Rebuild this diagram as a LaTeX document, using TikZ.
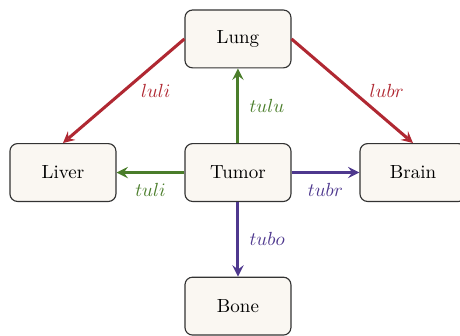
\documentclass[tikz,border=0pt]{standalone}
\usepackage{amsmath}
\usetikzlibrary{arrows}

\definecolor{metred}{RGB}{176,40,50}
\definecolor{metgreen}{RGB}{74,125,42}
\definecolor{metpurple}{RGB}{78,56,142}
\definecolor{organfill}{RGB}{250,247,242}

\begin{document}
\begin{tikzpicture}[>=stealth, semithick,
        organ/.style={draw=black!80, line width=0.6pt, fill=organfill, rounded corners=4pt,
            minimum width=1.96cm, minimum height=1.07cm},
        spread/.style={->, line width=1.6pt}]
    \useasboundingbox (-4.40, -3.005) rectangle (4.105, 3.19);
    \node[organ] (lung) at (0, 2.47) {Lung};
    \node[organ] (tumor) at (0, 0) {Tumor};
    \node[organ] (liver) at (-3.236, 0) {Liver};
    \node[organ] (brain) at (3.236, 0) {Brain};
    \node[organ] (bone) at (0, -2.47) {Bone};
    % from the lung
    \draw[spread, metred] (lung.west) -- (liver.north) node[midway, right, xshift=5pt] {\(luli\)};
    \draw[spread, metred] (lung.east) -- (brain.north) node[midway, right, xshift=5pt] {\(lubr\)};
    % from the tumor
    \draw[spread, metgreen] (tumor.north) -- (lung.south) node[midway, right, xshift=2pt] {\(tulu\)};
    \draw[spread, metgreen] (tumor.west) -- (liver.east) node[midway, below, yshift=-1.5pt] {\(tuli\)};
    \draw[spread, metpurple] (tumor.east) -- (brain.west) node[midway, below, yshift=-1.5pt] {\(tubr\)};
    \draw[spread, metpurple] (tumor.south) -- (bone.north) node[midway, right, xshift=2pt] {\(tubo\)};
\end{tikzpicture}
\end{document}
